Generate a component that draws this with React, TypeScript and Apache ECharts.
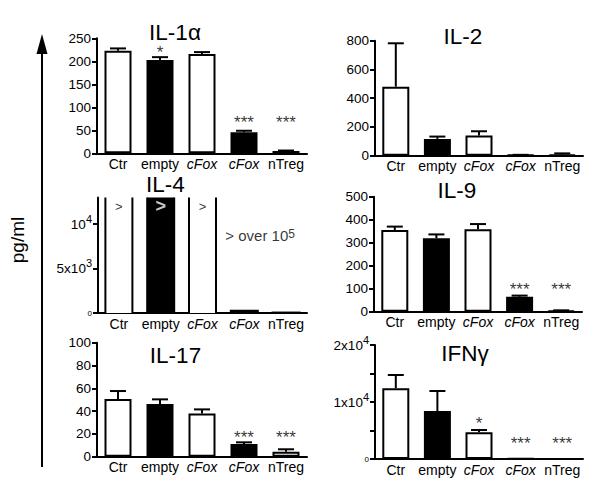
import React, { useEffect, useRef } from 'react';
import * as echarts from 'echarts';

const FONT = '"Liberation Sans", Arial, Helvetica, sans-serif';

const categories = ['Ctr', 'empty', 'cFox', 'cFox', 'nTreg'];
const italicCategoryIndex = [2, 3];
const barFill = ['#ffffff', '#000000', '#ffffff', '#000000', '#ffffff'];

const panelTitles = ['IL-1α', 'IL-2', 'IL-4', 'IL-9', 'IL-17', 'IFNγ'];

const il1aValues = [223, 203, 216, 46, 5];
const il1aErrors = [5, 6, 4, 3, 1];
const il1aStars: [number, number, string][] = [[1, 227, '*'], [3, 75, '***'], [4, 75, '***']];

const il2Values = [480, 117, 140, 5, 8];
const il2Errors = [302, 16, 30, 1, 8];

const il4Values = [100000, 100000, 100000, 250, 50];
const il4Marks: [number, number, string][] = [[0, 12000, '>'], [2, 12000, '>']];
const il4WhiteMarks: [number, number, string][] = [[1, 12000, '>']];
const il4Note: [number, number, string][] = [[3, 8760, '> over 10{sup|5}']];

const il9Values = [355, 319, 358, 65, 5];
const il9Errors = [15, 17, 23, 5, 1];
const il9Stars: [number, number, string][] = [[3, 115, '***'], [4, 115, '***']];

const il17Values = [50.6, 46.2, 38, 11.1, 4.4];
const il17Errors = [7, 4.1, 3.5, 1.5, 2.1];
const il17Stars: [number, number, string][] = [[3, 20, '***'], [4, 20, '***']];

const ifngValues = [12400, 8420, 4680, 100, 30];
const ifngErrors = [2340, 3510, 410, 0, 0];
const ifngStars: [number, number, string][] = [[2, 7000, '*'], [3, 3450, '***'], [4, 3450, '***']];

const il4TickValues = [0, 5000, 10000];

type Panel = {
  title: string;
  grid: { left: number; top: number; width: number; height: number };
  titlePos: [number, number];
  max: number;
  interval: number;
  values: number[];
  errors?: number[];
  stars?: [number, number, string][];
  labelFormatter?: (v: number) => string;
  customTicks?: number[];
  openTop?: boolean;
};

const supRich = {
  b: { fontSize: 13.5, fontFamily: FONT, color: '#000', padding: [4, 0, 4, 0] },
  sup: { fontSize: 11, fontFamily: FONT, color: '#000', verticalAlign: 'top' },
  z: { fontSize: 8, fontFamily: FONT, color: '#000' },
};

const BAR_W = 27;

const panels: Panel[] = [
  {
    title: panelTitles[0],
    grid: { left: 97, top: 38.3, width: 210, height: 115 },
    titlePos: [175, 32.5],
    max: 250, interval: 50,
    values: il1aValues, errors: il1aErrors, stars: il1aStars,
  },
  {
    title: panelTitles[1],
    grid: { left: 375, top: 40.7, width: 208, height: 115 },
    titlePos: [463, 36],
    max: 800, interval: 200,
    values: il2Values, errors: il2Errors,
  },
  {
    title: panelTitles[2],
    grid: { left: 98, top: 197.5, width: 209, height: 115.5 },
    titlePos: [165.5, 184],
    max: 13000, interval: 5000,
    values: il4Values,
    customTicks: il4TickValues,
    openTop: true,
    labelFormatter: (v: number) =>
      v === 0 ? '{z|0}' : v === 5000 ? '{b|5x10}{sup|3}' : v === 10000 ? '{b|10}{sup|4}' : '',
  },
  {
    title: panelTitles[3],
    grid: { left: 374, top: 196.7, width: 208, height: 115 },
    titlePos: [457, 190],
    max: 500, interval: 100,
    values: il9Values, errors: il9Errors, stars: il9Stars,
  },
  {
    title: panelTitles[4],
    grid: { left: 97, top: 342.7, width: 210, height: 114 },
    titlePos: [175.5, 355],
    max: 100, interval: 20,
    values: il17Values, errors: il17Errors, stars: il17Stars,
  },
  {
    title: panelTitles[5],
    grid: { left: 375, top: 345, width: 208, height: 114 },
    titlePos: [465, 353],
    max: 20000, interval: 5000,
    values: ifngValues, errors: ifngErrors, stars: ifngStars,
    labelFormatter: (v: number) =>
      v === 0 ? '{z|0}' : v === 10000 ? '{b|1x10}{sup|4}' : v === 20000 ? '{b|2x10}{sup|4}' : '',
  },
];

function buildOption() {
  const grid: any[] = [];
  const xAxis: any[] = [];
  const yAxis: any[] = [];
  const series: any[] = [];
  const graphic: any[] = [];

  panels.forEach((p, i) => {
    grid.push({ ...p.grid, containLabel: false, outerBoundsMode: 'none' });
    xAxis.push({
      type: 'category',
      gridIndex: i,
      data: categories,
      axisLine: { show: true, lineStyle: { color: '#000', width: 2 } },
      axisTick: { show: false },
      axisLabel: {
        interval: 0,
        color: '#000',
        fontSize: 14,
        fontFamily: FONT,
        margin: 3,
        lineHeight: 15,
        formatter: (val: string, idx: number) =>
          italicCategoryIndex.includes(idx) ? '{i|' + val + '}' : val,
        rich: { i: { fontStyle: 'italic', fontSize: 14, lineHeight: 15, fontFamily: FONT, color: '#000' } },
      },
    });
    const yLabel: any = {
      color: '#000',
      fontSize: 13.5,
      fontFamily: FONT,
      margin: 6,
    };
    if (p.labelFormatter) {
      yLabel.formatter = p.labelFormatter;
      yLabel.rich = supRich;
    }
    const yTick: any = { show: true, length: 5, lineStyle: { color: '#000', width: 2 } };
    if (p.customTicks) {
      yLabel.customValues = p.customTicks;
      yTick.customValues = p.customTicks;
    }
    yAxis.push({
      type: 'value',
      gridIndex: i,
      min: 0,
      max: p.max,
      interval: p.interval,
      axisLine: { show: true, lineStyle: { color: '#000', width: 2 } },
      axisTick: yTick,
      splitLine: { show: false },
      axisLabel: yLabel,
    });

    if (p.openTop) {
      // bars whose values run past the axis: drawn open at the top of the plot
      series.push({
        type: 'custom',
        xAxisIndex: i,
        yAxisIndex: i,
        data: p.values.map((v, k) => [k, v]),
        encode: { x: 0, y: 1 },
        renderItem: (params: any, api: any) => {
          const k = params.dataIndex;
          const x = api.value(0);
          const v = api.value(1);
          const base = api.coord([x, 0]);
          const top = api.coord([x, v]);
          const gridTop = params.coordSys.y;
          const clipped = top[1] < gridTop;
          const yTop = Math.max(top[1], gridTop);
          const left = base[0] - BAR_W / 2;
          const children: any[] = [
            {
              type: 'rect',
              shape: { x: left, y: yTop, width: BAR_W, height: base[1] - yTop },
              style: { fill: barFill[k], stroke: clipped ? null : '#000', lineWidth: 2 },
            },
          ];
          if (clipped) {
            children.push(
              { type: 'line', shape: { x1: left, y1: yTop, x2: left, y2: base[1] }, style: { stroke: '#000', lineWidth: 2 } },
              { type: 'line', shape: { x1: left + BAR_W, y1: yTop, x2: left + BAR_W, y2: base[1] }, style: { stroke: '#000', lineWidth: 2 } },
            );
          }
          return { type: 'group', children };
        },
      });
    } else {
      series.push({
        type: 'bar',
        xAxisIndex: i,
        yAxisIndex: i,
        barWidth: BAR_W,
        data: p.values.map((v, k) => ({ value: v, itemStyle: { color: barFill[k] } })),
        itemStyle: { borderColor: '#000', borderWidth: 2 },
      });
    }

    if (p.errors) {
      const errs = p.errors;
      series.push({
        type: 'custom',
        xAxisIndex: i,
        yAxisIndex: i,
        data: p.values.map((v, k) => [k, v, v + errs[k]]),
        encode: { x: 0, y: [1, 2] },
        renderItem: (params: any, api: any) => {
          const x = api.value(0);
          const v = api.value(1);
          const t = api.value(2);
          if (t <= v) return { type: 'group', children: [] };
          const p0 = api.coord([x, v]);
          const p1 = api.coord([x, t]);
          const cap = 8;
          return {
            type: 'group',
            children: [
              { type: 'line', shape: { x1: p0[0], y1: p0[1], x2: p1[0], y2: p1[1] }, style: { stroke: '#000', lineWidth: 2 } },
              { type: 'line', shape: { x1: p1[0] - cap, y1: p1[1], x2: p1[0] + cap, y2: p1[1] }, style: { stroke: '#000', lineWidth: 2 } },
            ],
          };
        },
      });
    }

    if (p.stars) {
      series.push({
        type: 'scatter',
        xAxisIndex: i,
        yAxisIndex: i,
        symbolSize: 0,
        silent: true,
        data: p.stars.map((s) => ({ value: [s[0], s[1]], label: { formatter: s[2] } })),
        label: {
          show: true,
          position: 'inside',
          color: '#000',
          fontSize: 17,
          fontFamily: FONT,
          lineHeight: 10,
          offset: [0, 4],
        },
      });
    }

    graphic.push({
      type: 'text',
      x: p.titlePos[0],
      y: p.titlePos[1],
      style: {
        text: p.title,
        fontSize: 22.5,
        fontFamily: FONT,
        fill: '#000',
        align: 'center',
        verticalAlign: 'middle',
      },
    });
  });

  // IL-4 annotations
  series.push({
    type: 'scatter',
    xAxisIndex: 2,
    yAxisIndex: 2,
    symbolSize: 0,
    silent: true,
    data: il4Marks.map((s) => ({ value: [s[0], s[1]], label: { formatter: s[2] } })),
    label: { show: true, position: 'inside', color: '#000', fontSize: 13, fontFamily: FONT },
  });
  series.push({
    type: 'scatter',
    xAxisIndex: 2,
    yAxisIndex: 2,
    symbolSize: 0,
    silent: true,
    data: il4WhiteMarks.map((s) => ({ value: [s[0], s[1]], label: { formatter: s[2] } })),
    label: { show: true, position: 'inside', color: '#fff', fontSize: 18, fontWeight: 'bold', fontFamily: FONT },
  });
  series.push({
    type: 'scatter',
    xAxisIndex: 2,
    yAxisIndex: 2,
    symbolSize: 0,
    silent: true,
    data: il4Note.map((s) => ({ value: [s[0], s[1]], label: { formatter: s[2] } })),
    label: {
      show: true,
      position: 'inside',
      align: 'left',
      offset: [-19, 0],
      color: '#000',
      fontSize: 15,
      fontFamily: FONT,
      rich: {
        sup: { fontSize: 12, fontFamily: FONT, color: '#000', verticalAlign: 'top' },
      },
    },
  });

  // Shared y-axis arrow and unit
  graphic.push({
    type: 'line',
    shape: { x1: 42, y1: 50, x2: 42, y2: 467 },
    style: { stroke: '#000', lineWidth: 2 },
  });
  graphic.push({
    type: 'polygon',
    shape: { points: [[42, 34], [36.5, 54], [47.5, 54]] },
    style: { fill: '#000' },
  });
  graphic.push({
    type: 'text',
    x: 17,
    y: 240,
    rotation: Math.PI / 2,
    style: {
      text: 'pg/ml',
      fontSize: 19,
      fontFamily: FONT,
      fill: '#000',
      align: 'center',
      verticalAlign: 'middle',
    },
  });

  return {
    animation: false,
    backgroundColor: '#ffffff',
    grid,
    xAxis,
    yAxis,
    series,
    graphic,
  };
}

export default function App() {
  const ref = useRef<HTMLDivElement>(null);
  useEffect(() => {
    if (!ref.current) return;
    const chart = echarts.init(ref.current, undefined, { renderer: 'svg' });
    chart.setOption(buildOption() as any);
    return () => chart.dispose();
  }, []);
  return (
    <div
      ref={ref}
      style={{ position: 'fixed', left: 0, top: 0, width: 601, height: 482, background: '#fff' }}
    />
  );
}
